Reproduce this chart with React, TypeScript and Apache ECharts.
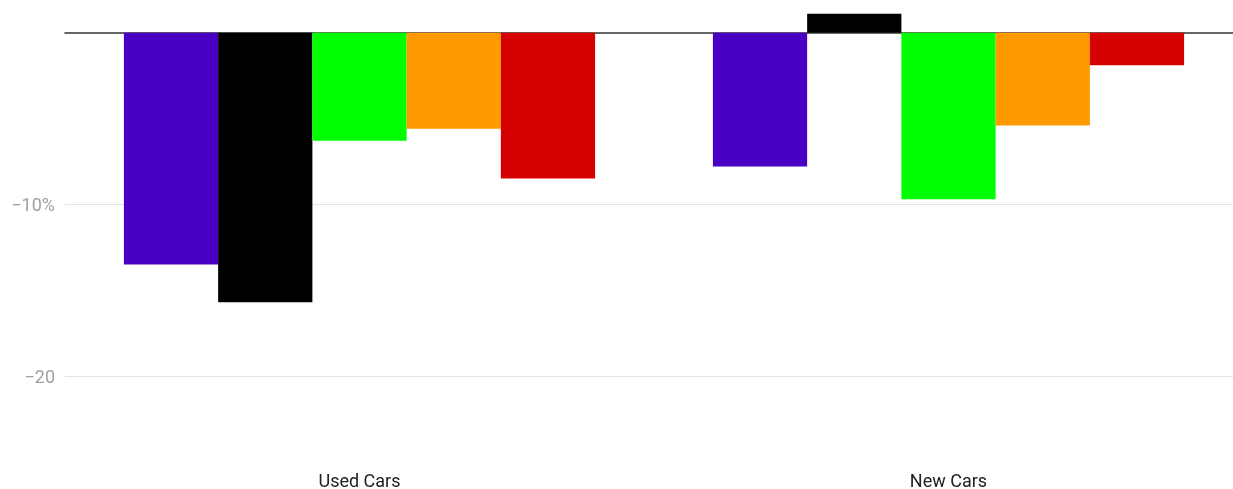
import React, { useEffect, useRef } from "react";
import * as echarts from "echarts";

const categories = ["Used Cars", "New Cars"];
const seriesNames = ["S1", "S2", "S3", "S4", "S5"];
const seriesColors = ["#4a00c3", "#000000", "#00ff00", "#ff9900", "#d50000"];
const seriesValues = [
  [-13.5, -7.8],
  [-15.7, 1.1],
  [-6.3, -9.7],
  [-5.6, -5.4],
  [-8.5, -1.9],
];
const yTicks = [-20, -10];

export default function App() {
  const ref = useRef<HTMLDivElement>(null);
  useEffect(() => {
    if (!ref.current) return;
    const chart = echarts.init(ref.current, null, { renderer: "svg" });
    chart.setOption({
      animation: false,
      grid: { left: 65, width: 1178, top: 0, bottom: 26, containLabel: false },
      xAxis: {
        type: "category",
        data: categories,
        axisLine: { show: true, onZero: true, lineStyle: { color: "#333333", width: 1.5 } },
        axisTick: { show: false },
        axisLabel: {
          color: "#222222",
          fontFamily: "Roboto",
          fontSize: 18,
          margin: 9,
        },
      },
      yAxis: {
        type: "value",
        min: -25,
        max: 1.9,
        axisLine: { show: false },
        axisTick: { show: false, customValues: yTicks },
        splitLine: { show: true, lineStyle: { color: "#e3e3e3", width: 1 } },
        axisLabel: {
          customValues: yTicks,
          color: "#a0a0a0",
          fontFamily: "Roboto",
          fontSize: 18,
          margin: 10,
          formatter: (v: number) => (v === -10 ? "\u221210%" : "\u2212" + Math.abs(v)),
        },
      },
      series: seriesNames.map((name, i) => ({
        name,
        type: "bar",
        data: seriesValues[i],
        barGap: "0%",
        barCategoryGap: "20%",
        itemStyle: { color: seriesColors[i] },
      })),
    });
    return () => chart.dispose();
  }, []);
  return (
    <div
      style={{ position: "fixed", left: 0, top: 0, width: 1233, height: 489, overflow: "hidden" }}
    >
      <div ref={ref} style={{ width: 1260, height: 489 }} />
    </div>
  );
}
